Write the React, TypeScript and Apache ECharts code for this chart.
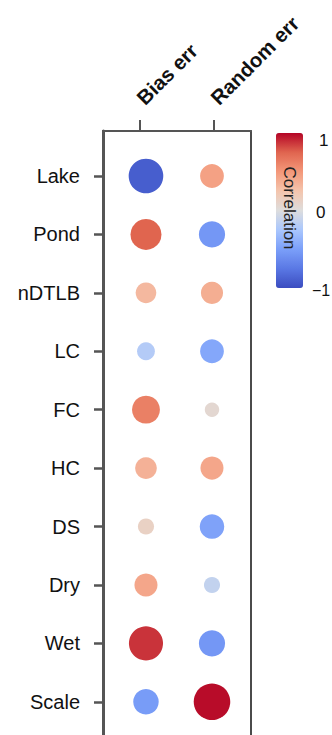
import React, { useEffect, useRef } from "react";
import * as echarts from "echarts";

const rows = ["Lake", "Pond", "nDTLB", "LC", "FC", "HC", "DS", "Dry", "Wet", "Scale"];
const cols = ["Bias err", "Random err"];
const biasErr = [-0.9, 0.75, 0.32, -0.2, 0.62, 0.36, 0.13, 0.42, 0.88, -0.52];
const randomErr = [0.45, -0.55, 0.38, -0.45, 0.06, 0.42, -0.48, -0.13, -0.55, 0.98];
const colorbarLabels = ["1", "0", "\u22121"];
const legendTitle = "Correlation";

const coolwarm = [
  "#3b4cc0",
  "#5a78e4",
  "#7b9ff9",
  "#aac7fd",
  "#dddddd",
  "#f4c5ad",
  "#f4987a",
  "#e0654f",
  "#b40426",
];

const FONT = "'Liberation Sans', Arial, Helvetica, sans-serif";

export default function App() {
  const ref = useRef<HTMLDivElement>(null);
  useEffect(() => {
    if (!ref.current) return;
    const chart = echarts.init(ref.current, undefined, { renderer: "svg" });
    const data: number[][] = [];
    rows.forEach((_, i) => {
      data.push([0, i, biasErr[i]]);
      data.push([1, i, randomErr[i]]);
    });
    const option: any = {
      animation: false,
      textStyle: { fontFamily: FONT },
      grid: {
        left: 103,
        right: 81,
        top: 131,
        bottom: -3,
        show: true,
        borderColor: "#111",
        borderWidth: 1.5,
        backgroundColor: "transparent",
        outerBoundsMode: "none",
      },
      xAxis: [
        {
          type: "value",
          show: false,
          min: -0.651,
          max: 1.591,
        },
        {
          type: "category",
          position: "top",
          data: cols,
          boundaryGap: true,
          axisLine: { show: true, onZero: false, lineStyle: { color: "#555", width: 2 } },
          axisTick: { show: true, alignWithLabel: true, length: 11, lineStyle: { color: "#555", width: 2 } },
          axisLabel: {
            rotate: -45,
            margin: 30,
            fontSize: 20.5,
            fontWeight: "bold",
            color: "#111",
            fontFamily: FONT,
            overflow: "none",
            hideOverlap: false,
          },
          splitLine: { show: false },
        },
      ],
      yAxis: {
        type: "value",
        inverse: true,
        min: -0.77,
        max: 9.62,
        axisLine: { show: true, onZero: false, lineStyle: { color: "#555", width: 3 } },
        axisTick: {
          show: true,
          length: 9,
          customValues: rows.map((_, i) => i),
          lineStyle: { color: "#555", width: 2.5 },
        },
        axisLabel: {
          customValues: rows.map((_, i) => i),
          formatter: (v: number) => rows[Math.round(v)] ?? "",
          margin: 23,
          fontSize: 20,
          color: "#111",
          fontFamily: FONT,
        },
        splitLine: { show: false },
      },
      visualMap: {
        type: "continuous",
        min: -1,
        max: 1,
        dimension: 2,
        seriesIndex: 0,
        show: true,
        calculable: false,
        hoverLink: false,
        left: 276,
        top: 133,
        padding: 0,
        itemWidth: 27,
        itemHeight: 155,
        text: null,
        inRange: { color: coolwarm },
      },
      graphic: [
        {
          type: "text",
          x: 319,
          y: 140,
          style: { text: colorbarLabels[0], font: `17px ${FONT}`, fill: "#111", verticalAlign: "middle", align: "left" },
        },
        {
          type: "text",
          x: 316,
          y: 212,
          style: { text: colorbarLabels[1], font: `17px ${FONT}`, fill: "#111", verticalAlign: "middle", align: "left" },
        },
        {
          type: "text",
          x: 312,
          y: 290,
          style: { text: colorbarLabels[2], font: `16px ${FONT}`, fill: "#111", verticalAlign: "middle", align: "left" },
        },
        {
          type: "text",
          x: 289,
          y: 208,
          rotation: -Math.PI / 2,
          z: 100,
          style: { text: legendTitle, font: `17px ${FONT}`, fill: "#222", verticalAlign: "middle", align: "center" },
        },
      ],
      series: [
        {
          type: "scatter",
          xAxisIndex: 0,
          yAxisIndex: 0,
          data,
          symbol: "circle",
          symbolSize: (d: number[]) => 13 + 24 * Math.abs(d[2]),
          itemStyle: { opacity: 1 },
        },
      ],
    };
    chart.setOption(option);
    return () => chart.dispose();
  }, []);
  return (
    <div
      ref={ref}
      style={{ position: "absolute", left: 0, top: 0, width: 332, height: 735, background: "#fff" }}
    />
  );
}
